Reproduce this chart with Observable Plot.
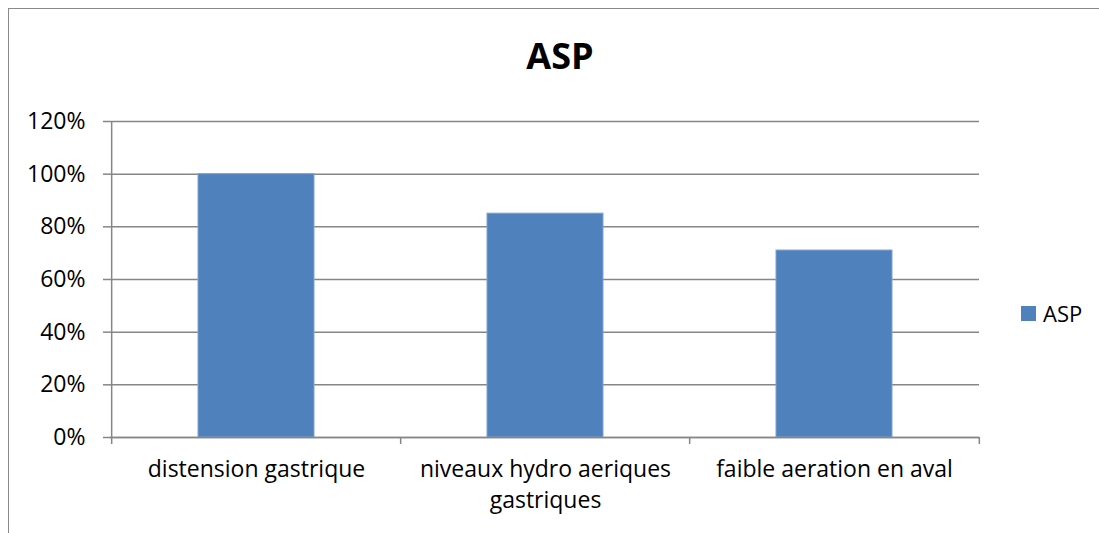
<!DOCTYPE html>
<html>
<head>
<meta charset="utf-8">
<script src="https://cdn.jsdelivr.net/npm/d3@7"></script>
<script src="https://cdn.jsdelivr.net/npm/@observablehq/plot@0.6"></script>
<style>
  html, body { margin: 0; padding: 0; background: #fff; }
  #chart { position: relative; width: 1099px; height: 533px; overflow: hidden; font-family: "Open Sans", sans-serif; }
  #border { position: absolute; left: 8px; top: 8px; width: 1200px; height: 700px; border: 1.5px solid #8a8a8a; box-sizing: border-box; }
  #title { position: absolute; left: 0; width: 1120px; top: 34px; text-align: center; font-weight: bold; font-size: 36px; line-height: 44px; color: #000; }
  #legend { position: absolute; left: 1021px; top: 298px; font-size: 22px; line-height: 30px; color: #000; display: flex; align-items: center; }
  #legend .sw { width: 15px; height: 15px; background: #4F81BD; margin-right: 7px; }
  #plot { position: absolute; left: 0; top: 0; }
</style>
</head>
<body>
<div id="chart">
  <div id="border"></div>
  <div id="plot"></div>
  <div id="title">ASP</div>
  <div id="legend"><div class="sw"></div><span>ASP</span></div>
</div>
<script>
// Chart data
const categories = ["distension gastrique", "niveaux hydro aeriques gastriques", "faible aeration en aval"];
const values = [1.00, 0.85, 0.71];
const yTicks = [0, 0.2, 0.4, 0.6, 0.8, 1.0, 1.2];
const seriesName = "ASP";

const rows = categories.map((c, i) => ({category: c, value: values[i], series: seriesName}));

const W = 1099, H = 533;
const margin = {left: 110, right: 120, top: 121, bottom: 96};
const step = (W - margin.left - margin.right) / categories.length;
const gridColor = "#868686";
const barColor = "#4F81BD";
const labelSize = 23;

const chart = Plot.plot({
  width: W,
  height: H,
  marginLeft: margin.left,
  marginRight: margin.right,
  marginTop: margin.top,
  marginBottom: margin.bottom,
  style: {fontFamily: "'Open Sans', sans-serif", fontSize: labelSize + "px", color: "#000", background: "transparent"},
  x: {domain: categories, paddingInner: 0.6, paddingOuter: 0.3, label: null},
  y: {domain: [0, 1.2], label: null},
  marks: [
    Plot.gridY(yTicks, {stroke: gridColor, strokeOpacity: 1, strokeWidth: 1.5}),
    Plot.barY(rows, {x: "category", y: "value", fill: barColor, stroke: "#7fa3d1", strokeWidth: 1}),
    // vertical value axis line
    Plot.ruleX([categories[0]], {x: d => d, dx: -step / 2, stroke: gridColor, strokeWidth: 1.5}),
    // baseline and category boundary ticks
    Plot.ruleY([0], {stroke: gridColor, strokeWidth: 1.5}),
    Plot.ruleX(categories, {x: d => d, y1: 0, y2: 0, dx: -step / 2, insetBottom: -7, stroke: gridColor, strokeWidth: 1.5}),
    Plot.ruleX([categories[categories.length - 1]], {x: d => d, y1: 0, y2: 0, dx: step / 2, insetBottom: -7, stroke: gridColor, strokeWidth: 1.5}),
    Plot.axisY(yTicks, {tickFormat: d => Math.round(d * 100) + "%", tickSize: 7, tickPadding: 18, stroke: gridColor, strokeWidth: 1.5, fill: "#000", fontSize: labelSize, label: null}),
    Plot.axisX({tickSize: 0, tickPadding: 18, lineWidth: 12.5, fill: "#000", fontSize: labelSize, label: null, lineHeight: 1.33})
  ]
});
document.getElementById("plot").appendChild(chart);
</script>
</body>
</html>
